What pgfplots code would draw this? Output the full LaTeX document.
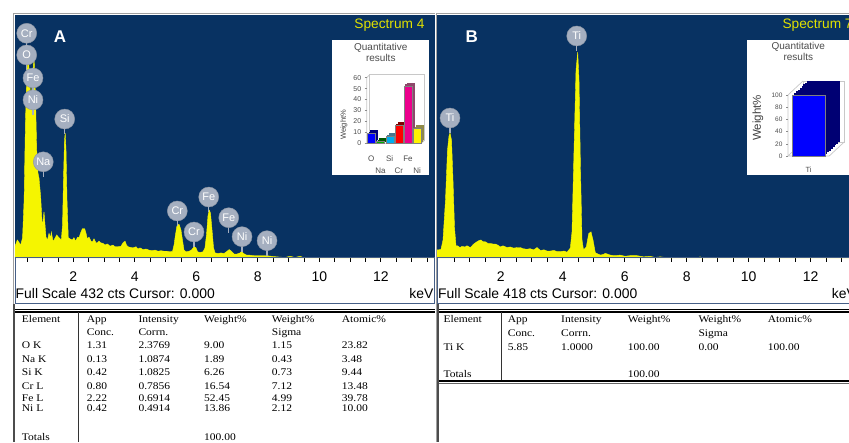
\documentclass[border=0pt]{standalone}
\usepackage{pgfplots}
\pgfplotsset{compat=1.18}
\usepackage{fontspec}
\setmainfont{Liberation Serif}
\setsansfont{Liberation Sans}
\newfontfamily\tabfont{Liberation Serif}[FakeStretch=1.13]
\definecolor{specblue}{RGB}{8,50,98}
\definecolor{specyellow}{RGB}{245,245,0}
\definecolor{labgray}{RGB}{165,175,192}
\definecolor{spectitle}{RGB}{225,225,0}
\definecolor{framegray}{RGB}{160,160,160}
\definecolor{footblue}{RGB}{70,95,135}
\definecolor{wallgray}{RGB}{200,200,200}
\newcommand{\fs}[1]{\fontsize{#1}{#1}\selectfont}
\newcommand{\elab}[3]{%
  \draw[labgray, line width=1.4pt] (axis cs:#1,#2) -- ++(0pt,-15pt);%
  \node[circle, fill=labgray, draw=labgray!85!black, line width=0.4pt, minimum size=20pt, inner sep=0pt, text=white, font=\sffamily\fs{11}] at (axis cs:#1,#2) {#3};}
\newcommand{\barA}[4]{%
  \addplot[ybar, bar width=8pt, bar shift=0pt, fill=#4, draw=none, xshift=3pt, yshift=3pt] coordinates {(#1,#2)};
  \addplot[ybar, bar width=8pt, bar shift=0pt, fill=#4, draw=none, xshift=1.5pt, yshift=1.5pt] coordinates {(#1,#2)};
  \addplot[ybar, bar width=8pt, bar shift=0pt, fill=#3, draw=black!50, line width=0.2pt] coordinates {(#1,#2)};}
\newcommand{\tc}[3]{\node[anchor=base west, inner sep=0pt, font=\tabfont\fs{10.2}] at (#1,#2) {#3};}
\pgfplotsset{
 specaxis/.style={anchor=south west, scale only axis, height=243pt, ymin=0,
   axis background/.style={fill=specblue}, axis line style={draw=none},
   ytick=\empty, xtick={2,4,...,12}, minor xtick={0.5,1,...,13.5}, xtick pos=left,
   tick align=outside, major tick length=4pt, minor tick length=4pt,
   tick style={black, line width=0.8pt},
   xticklabel style={font=\sffamily\fs{14}, text=black, yshift=-6pt},
   /pgf/number format/assume math mode=true, clip=false},
 insetaxis/.style={anchor=south west, scale only axis, axis line style={draw=none}, ymin=0,
   ytick pos=left, xtick style={draw=none}, ytick style={wallgray!70!black, line width=0.4pt},
   tick align=outside, major tick length=2pt,
   yticklabel style={font=\sffamily\fs{7}, text=black!70},
   /pgf/number format/assume math mode=true, clip=false},
}
\begin{document}
\begin{tikzpicture}[x=1pt,y=1pt]
\useasboundingbox (0,0) rectangle (849,442);
\fill[white] (0,0) rectangle (849,442);

% ---------------- Spectrum A ----------------
\begin{axis}[specaxis, at={(15pt,184pt)}, width=420pt, xmin=0.104, xmax=13.76, ymax=432]
\addplot[draw=specyellow, fill=specyellow, line width=0.4pt] coordinates {
(0.104,21)(0.18,32)(0.23,28)(0.29,23)(0.35,36)(0.40,103)(0.445,245)(0.494,334)(0.537,357)(0.576,325)
(0.624,263)(0.667,316)(0.722,359)(0.764,299)(0.81,192)(0.852,151)(0.885,142)(0.94,108)(0.992,55)(1.047,82)
(1.112,37)(1.16,32)(1.21,44)(1.26,36)(1.285,46)(1.34,30)(1.372,32)(1.46,41)(1.535,36)(1.61,32)
(1.65,59)(1.68,139)(1.714,210)(1.737,222)(1.763,192)(1.795,103)(1.837,36)(1.893,34)(1.967,32)(2.02,36)
(2.078,30)(2.137,37)(2.185,36)(2.234,44)(2.293,52)(2.37,52)(2.413,44)(2.455,34)(2.51,37)(2.576,30)
(2.618,28)(2.673,34)(2.738,27)(2.78,27)(2.836,30)(2.89,27)(2.966,26)(3.03,23)(3.106,25)(3.193,21)
(3.29,23)(3.356,20)(3.454,20)(3.551,21)(3.616,27)(3.681,30)(3.73,23)(3.779,20)(3.844,19)(3.941,18)
(4.039,20)(4.104,16)(4.169,18)(4.267,15)(4.364,16)(4.462,14)(4.56,13)(4.657,14)(4.754,12)(4.852,13)
(4.95,12)(5.047,12)(5.145,11)(5.226,12)(5.275,23)(5.32,41)(5.37,57)(5.437,60)(5.5,50)(5.56,28)
(5.6,14)(5.665,11)(5.76,12)(5.84,14)(5.925,20)(5.99,18)(6.04,11)(6.12,10)(6.218,11)(6.28,18)
(6.33,41)(6.38,76)(6.423,85)(6.46,80)(6.51,50)(6.56,18)(6.61,9)(6.706,8)(6.8,9)(6.9,8)
(7.0,12)(7.07,15)(7.14,12)(7.226,7)(7.32,7)(7.42,9)(7.476,12)(7.535,8)(7.64,5)(7.746,5)
(7.876,4)(8.006,4)(8.137,4)(8.3,4)(8.46,3)(8.62,2)(8.885,1)(9.05,3)(9.21,1)(9.37,3)
(9.53,0)(13.76,0)} \closedcycle;
\draw[black, line width=1pt] (rel axis cs:0,0) -- (rel axis cs:1,0);
\elab{0.689}{281}{Ni}
\elab{0.689}{320}{Fe}
\elab{0.485}{361}{O}
\elab{0.485}{399.5}{Cr}
\elab{1.72}{247}{Si}
\elab{1.024}{171}{Na}
\elab{5.382}{83.6}{Cr}
\elab{5.925}{46.2}{Cr}
\elab{6.403}{108.4}{Fe}
\elab{7.054}{71.6}{Fe}
\elab{7.486}{37.9}{Ni}
\elab{8.299}{30.8}{Ni}
\end{axis}

% ---------------- Spectrum B ----------------
\begin{axis}[specaxis, at={(437pt,184pt)}, width=412pt, xmin=-0.055, xmax=13.235, ymax=418]
\addplot[draw=specyellow, fill=specyellow, line width=0.4pt] coordinates {
(-0.055,14)(0,14)(0.074,15)(0.139,31)(0.219,100)(0.284,186)(0.332,210)(0.365,215)(0.413,203)(0.461,134)
(0.51,52)(0.558,21)(0.606,21)(0.687,18)(0.752,20)(0.848,19)(0.913,21)(1.019,18)(1.129,24)(1.235,28)
(1.3,30)(1.365,31)(1.429,28)(1.503,28)(1.59,25)(1.665,25)(1.752,24)(1.826,24)(1.913,22)(1.987,19)
(2.074,21)(2.203,18)(2.3,19)(2.42,17)(2.526,18)(2.632,18)(2.72,16)(2.848,15)(2.945,16)(3.065,14)
(3.171,18)(3.277,13)(3.397,14)(3.494,12)(3.6,12)(3.72,13)(3.816,11)(3.923,11)(4.042,12)(4.139,10)
(4.245,17)(4.3,45)(4.365,186)(4.429,323)(4.484,354)(4.526,306)(4.574,151)(4.623,31)(4.671,14)(4.761,19)
(4.839,42)(4.913,45)(4.977,31)(5.052,9)(5.213,5)(5.3,6)(5.374,8)(5.535,5)(5.687,4)(5.848,5)
(6.01,3)(6.171,4)(6.397,4)(6.613,2)(6.816,3)(6.977,1)(7.148,2)(7.3,1)(7.471,1)(7.623,0)
(8.35,0)(8.43,2)(8.5,0)(13.235,0)} \closedcycle;
\draw[black, line width=1pt] (rel axis cs:0,0) -- (rel axis cs:1,0);
\elab{0.365}{240.8}{Ti}
\elab{4.452}{381.9}{Ti}
\end{axis}

% ---------------- decorations (pixel coordinates, y downwards) ----------------
\begin{scope}[shift={(0,442)}, yscale=-1]
\draw[framegray, line width=0.8pt] (13.4,442) -- (13.4,13.4) -- (435,13.4);
\draw[framegray, line width=0.8pt] (436.2,442) -- (436.2,13.4) -- (849,13.4);
\draw[footblue, line width=1pt] (15.5,258) rectangle (434.5,303.5);
\draw[footblue, line width=1pt] (437.5,258) rectangle (860,303.5);
\node[anchor=east, font=\sffamily\fs{13.7}, text=spectitle] at (428,25) {Spectrum 4};
\node[anchor=west, font=\sffamily\fs{13.7}, text=spectitle] at (779,25) {Spectrum 7};
\node[font=\sffamily\bfseries\fs{17}, text=white] at (60,37) {A};
\node[font=\sffamily\bfseries\fs{17}, text=white] at (471.7,37) {B};
\node[anchor=west, font=\sffamily\fs{13.9}, inner sep=0pt] at (15.5,294) {Full Scale 432 cts Cursor: 0.000};
\node[anchor=east, font=\sffamily\fs{13.9}, inner sep=0pt] at (433.5,294) {keV};
\node[anchor=west, font=\sffamily\fs{13.9}, inner sep=0pt] at (438,294) {Full Scale 418 cts Cursor: 0.000};
\node[anchor=west, font=\sffamily\fs{13.9}, inner sep=0pt] at (831.7,294) {keV};
% insets
\fill[white] (332,40) rectangle (429,175);
\fill[white] (747,40) rectangle (860,175);
\node[align=center, font=\sffamily\fontsize{10}{11.6}\selectfont, text=black!70] at (380.8,52.5) {Quantitative\\results};
\node[align=center, font=\sffamily\fontsize{10}{11.6}\selectfont, text=black!70] at (798.3,51.3) {Quantitative\\results};
\node[rotate=90, font=\sffamily\fs{7.5}, text=black!75] at (344,125) {Weight\%};
\node[rotate=90, font=\sffamily\fs{11.5}, text=black!75] at (758,118) {Weight\%};
\draw[wallgray, line width=0.7pt] (369.7,74.7) rectangle (424.7,140.3);
\draw[wallgray, line width=0.7pt] (366.7,77.7) -- (369.7,74.7) (366.7,143.3) -- (369.7,140.3) (421.7,143.3) -- (424.7,140.3) (366.7,77.7) -- (366.7,143.3) -- (421.7,143.3);
\draw[wallgray, line width=0.7pt] (803,81) rectangle (844.2,142);
\draw[wallgray, line width=0.7pt] (788,95) -- (803,81) (788,156) -- (803,142) (829.2,156) -- (844.2,142) (788,95) -- (788,156) -- (829.2,156);
% tables
\draw[black, line width=0.6pt] (15,309.3) -- (435,309.3);
\draw[black, line width=1.3pt] (15,312) -- (435,312);
\draw[black!80, line width=1pt] (78.7,312) -- (78.7,442);
\draw[black!70, line width=1.5pt] (14.2,304) -- (14.2,442);
\draw[black, line width=0.6pt] (437,309.3) -- (849,309.3);
\draw[black, line width=1.3pt] (437,312) -- (849,312);
\draw[black!80, line width=1pt] (501,312) -- (501,381);
\draw[black, line width=1.3pt] (437,381) -- (849,381);
\draw[black!60, line width=0.6pt] (437,383.7) -- (849,383.7);
\draw[black!70, line width=1.5pt] (437.8,304) -- (437.8,442);
% left table text
\tc{21.7}{322.4}{Element}\tc{86.7}{322.4}{App}\tc{138.3}{322.4}{Intensity}\tc{204}{322.4}{Weight\%}\tc{271.7}{322.4}{Weight\%}\tc{341.7}{322.4}{Atomic\%}
\tc{86.7}{335.7}{Conc.}\tc{138.3}{335.7}{Corrn.}\tc{271.7}{335.7}{Sigma}
\tc{21.7}{348.4}{O K}\tc{86.7}{348.4}{1.31}\tc{138.3}{348.4}{2.3769}\tc{204}{348.4}{9.00}\tc{271.7}{348.4}{1.15}\tc{341.7}{348.4}{23.82}
\tc{21.7}{362.7}{Na K}\tc{86.7}{362.7}{0.13}\tc{138.3}{362.7}{1.0874}\tc{204}{362.7}{1.89}\tc{271.7}{362.7}{0.43}\tc{341.7}{362.7}{3.48}
\tc{21.7}{375.1}{Si K}\tc{86.7}{375.1}{0.42}\tc{138.3}{375.1}{1.0825}\tc{204}{375.1}{6.26}\tc{271.7}{375.1}{0.73}\tc{341.7}{375.1}{9.44}
\tc{21.7}{389.1}{Cr L}\tc{86.7}{389.1}{0.80}\tc{138.3}{389.1}{0.7856}\tc{204}{389.1}{16.54}\tc{271.7}{389.1}{7.12}\tc{341.7}{389.1}{13.48}
\tc{21.7}{401.6}{Fe L}\tc{86.7}{401.6}{2.22}\tc{138.3}{401.6}{0.6914}\tc{204}{401.6}{52.45}\tc{271.7}{401.6}{4.99}\tc{341.7}{401.6}{39.78}
\tc{21.7}{411.4}{Ni L}\tc{86.7}{411.4}{0.42}\tc{138.3}{411.4}{0.4914}\tc{204}{411.4}{13.86}\tc{271.7}{411.4}{2.12}\tc{341.7}{411.4}{10.00}
\tc{21.7}{440.1}{Totals}\tc{204}{440.1}{100.00}
% right table text
\tc{443.3}{322.4}{Element}\tc{507.7}{322.4}{App}\tc{561}{322.4}{Intensity}\tc{627.7}{322.4}{Weight\%}\tc{698.3}{322.4}{Weight\%}\tc{767.7}{322.4}{Atomic\%}
\tc{507.7}{336.7}{Conc.}\tc{561}{336.7}{Corrn.}\tc{698.3}{336.7}{Sigma}
\tc{443.3}{350.1}{Ti K}\tc{507.7}{350.1}{5.85}\tc{561}{350.1}{1.0000}\tc{627.7}{350.1}{100.00}\tc{698.3}{350.1}{0.00}\tc{767.7}{350.1}{100.00}
\tc{443.3}{377.4}{Totals}\tc{627.7}{377.4}{100.00}
\end{scope}

% ---------------- Inset A ----------------
\begin{axis}[insetaxis, at={(366.7pt,298.7pt)}, width=55pt, height=65.6pt, xmin=0.5, xmax=6.5, ymax=60,
  ytick={0,10,...,60}, xtick={1,...,6},
  xticklabels={{\strut O},{\strut\\Na},{\strut Si},{\strut\\Cr},{\strut Fe},{\strut\\Ni}},
  xticklabel style={align=center, anchor=north, font=\sffamily\fontsize{8}{12.3}\selectfont, text=black!70, yshift=-4pt}]
\barA{1}{9.00}{blue}{blue!50!black}
\barA{2}{1.89}{green!70!black}{green!35!black}
\barA{3}{6.26}{cyan}{cyan!50!black}
\barA{4}{16.54}{red}{red!50!black}
\barA{5}{52.45}{magenta}{magenta!50!black}
\barA{6}{13.86}{yellow}{yellow!50!black}
\end{axis}

% ---------------- Inset B ----------------
\begin{axis}[insetaxis, at={(788pt,286pt)}, width=41.2pt, height=61pt, xmin=0.5, xmax=1.5, ymax=100,
  ytick={0,20,...,100}, xtick={1}, xticklabels={Ti},
  xticklabel style={font=\sffamily\fs{7.5}, text=black!70, yshift=-6pt},
  yticklabel style={font=\sffamily\fs{6.5}}]
\addplot[ybar, bar width=33pt, bar shift=0pt, fill=blue!45!black, draw=none, xshift=15pt, yshift=14pt] coordinates {(1,100)};
\addplot[ybar, bar width=33pt, bar shift=0pt, fill=blue!45!black, draw=none, xshift=13.1pt, yshift=12.25pt] coordinates {(1,100)};
\addplot[ybar, bar width=33pt, bar shift=0pt, fill=blue!45!black, draw=none, xshift=11.25pt, yshift=10.5pt] coordinates {(1,100)};
\addplot[ybar, bar width=33pt, bar shift=0pt, fill=blue!45!black, draw=none, xshift=9.4pt, yshift=8.75pt] coordinates {(1,100)};
\addplot[ybar, bar width=33pt, bar shift=0pt, fill=blue!45!black, draw=none, xshift=7.5pt, yshift=7pt] coordinates {(1,100)};
\addplot[ybar, bar width=33pt, bar shift=0pt, fill=blue!45!black, draw=none, xshift=5.6pt, yshift=5.25pt] coordinates {(1,100)};
\addplot[ybar, bar width=33pt, bar shift=0pt, fill=blue!45!black, draw=none, xshift=3.75pt, yshift=3.5pt] coordinates {(1,100)};
\addplot[ybar, bar width=33pt, bar shift=0pt, fill=blue!45!black, draw=none, xshift=1.9pt, yshift=1.75pt] coordinates {(1,100)};
\addplot[ybar, bar width=33pt, bar shift=0pt, fill=blue, draw=black!50, line width=0.2pt] coordinates {(1,100)};
\end{axis}
\end{tikzpicture}
\end{document}
